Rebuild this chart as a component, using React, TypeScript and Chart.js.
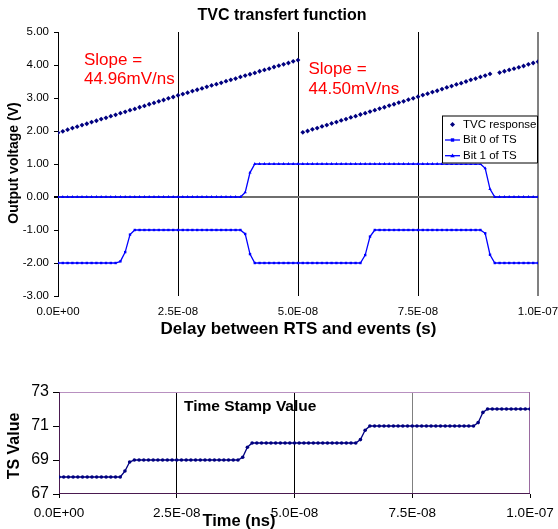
import React, { useEffect, useRef } from 'react';
import { Chart, registerables } from 'chart.js';

Chart.register(...registerables);

const FONT = '"Liberation Sans", Arial, sans-serif';

// sampling of the delay axis (one sample per ns)
const SAMPLE_STEP_S = 1e-9;

const X_TICK_VALUES = [0, 2.5e-8, 5e-8, 7.5e-8, 1e-7];
const X_TICK_LABELS = ['0.0E+00', '2.5E-08', '5.0E-08', '7.5E-08', '1.0E-07'];
const TVC_Y_TICKS = [-3, -2, -1, 0, 1, 2, 3, 4, 5];
const TS_Y_TICKS = [67, 69, 71, 73];

const SERIES_NAMES = ['TVC response', 'Bit 0 of TS', 'Bit 1 of TS'];
const TS_SERIES_NAME = 'Time Stamp Value';
const SLOPE_NOTES = [
  ['Slope =', '44.96mV/ns'],
  ['Slope =', '44.50mV/ns'],
];

const TVC_RESPONSE: (number | null)[] = [
  1.95, 1.99, 2.04, 2.09, 2.13, 2.18, 2.22, 2.27, 2.31, 2.36,
  2.40, 2.45, 2.49, 2.54, 2.58, 2.63, 2.67, 2.72, 2.76, 2.81,
  2.85, 2.90, 2.94, 2.99, 3.03, 3.08, 3.12, 3.16, 3.21, 3.25,
  3.29, 3.34, 3.38, 3.42, 3.46, 3.51, 3.55, 3.59, 3.64, 3.68,
  3.72, 3.76, 3.81, 3.85, 3.89, 3.94, 3.98, 4.02, 4.06, 4.11,
  4.15, 1.96, 2.00, 2.05, 2.09, 2.14, 2.18, 2.23, 2.27, 2.32,
  2.36, 2.41, 2.45, 2.50, 2.54, 2.59, 2.63, 2.68, 2.72, 2.77,
  2.81, 2.86, 2.90, 2.95, 2.99, 3.04, 3.09, 3.13, 3.18, 3.22,
  3.27, 3.32, 3.36, 3.41, 3.45, 3.50, 3.55, 3.59, 3.64, 3.68,
  3.73, null, 3.77, 3.81, 3.85, 3.89, 3.93, 3.97, 4.02, 4.06,
  4.10,
];

const BIT0_OF_TS: number[] = [
  -2, -2, -2, -2, -2, -2, -2, -2, -2, -2,
  -2, -2, -2, -1.95, -1.67, -1.14, -1, -1, -1, -1,
  -1, -1, -1, -1, -1, -1, -1, -1, -1, -1,
  -1, -1, -1, -1, -1, -1, -1, -1, -1, -1.12,
  -1.73, -2, -2, -2, -2, -2, -2, -2, -2, -2,
  -2, -2, -2, -2, -2, -2, -2, -2, -2, -2,
  -2, -2, -2, -2, -1.76, -1.2, -1, -1, -1, -1,
  -1, -1, -1, -1, -1, -1, -1, -1, -1, -1,
  -1, -1, -1, -1, -1, -1, -1, -1, -1, -1.1,
  -1.75, -2, -2, -2, -2, -2, -2, -2, -2, -2,
  -2,
];

const BIT1_OF_TS: number[] = [
  0, 0, 0, 0, 0, 0, 0, 0, 0, 0,
  0, 0, 0, 0, 0, 0, 0, 0, 0, 0,
  0, 0, 0, 0, 0, 0, 0, 0, 0, 0,
  0, 0, 0, 0, 0, 0, 0, 0, 0, 0.14,
  0.74, 1, 1, 1, 1, 1, 1, 1, 1, 1,
  1, 1, 1, 1, 1, 1, 1, 1, 1, 1,
  1, 1, 1, 1, 1, 1, 1, 1, 1, 1,
  1, 1, 1, 1, 1, 1, 1, 1, 1, 1,
  1, 1, 1, 1, 1, 1, 1, 1, 1, 0.87,
  0.24, 0, 0, 0, 0, 0, 0, 0, 0, 0,
  0,
];

const TS_VALUE: number[] = [
  68, 68, 68, 68, 68, 68, 68, 68, 68, 68,
  68, 68, 68, 68, 68.35, 68.88, 69, 69, 69, 69,
  69, 69, 69, 69, 69, 69, 69, 69, 69, 69,
  69, 69, 69, 69, 69, 69, 69, 69, 69, 69.16,
  69.75, 70, 70, 70, 70, 70, 70, 70, 70, 70,
  70, 70, 70, 70, 70, 70, 70, 70, 70, 70,
  70, 70, 70, 70, 70.2, 70.75, 71, 71, 71, 71,
  71, 71, 71, 71, 71, 71, 71, 71, 71, 71,
  71, 71, 71, 71, 71, 71, 71, 71, 71, 71.2,
  71.8, 72, 72, 72, 72, 72, 72, 72, 72, 72,
  72,
];

const toPoints = (arr: (number | null)[]) => arr.map((v, i) => ({ x: i * SAMPLE_STEP_S, y: v }));

const xLabel = (v: number) => {
  const i = X_TICK_VALUES.findIndex((t) => Math.abs(t - v) < 1e-12);
  return i >= 0 ? X_TICK_LABELS[i] : '';
};

const NAVY = '#000080';
const BLUE = '#0000FF';

function text(ctx: CanvasRenderingContext2D, s: string, x: number, y: number, font: string, color: string, align: CanvasTextAlign = 'left', baseline: CanvasTextBaseline = 'alphabetic', rot = 0) {
  ctx.save();
  ctx.font = font;
  ctx.fillStyle = color;
  ctx.textAlign = align;
  ctx.textBaseline = baseline;
  ctx.translate(x, y);
  if (rot) ctx.rotate(rot);
  ctx.fillText(s, 0, 0);
  ctx.restore();
}

const topDecor = {
  id: 'topDecor',
  afterDraw(chart: any) {
    const ctx: CanvasRenderingContext2D = chart.ctx;
    text(ctx, 'TVC transfert function', 282, 20, `bold 16px ${FONT}`, '#000', 'center');
    text(ctx, 'Output voltage (V)', 18, 163, `bold 14px ${FONT}`, '#000', 'center', 'alphabetic', -Math.PI / 2);
    text(ctx, 'Delay between RTS and events (s)', 298.5, 334, `bold 17px ${FONT}`, '#000', 'center');
    // slope notes
    text(ctx, SLOPE_NOTES[0][0], 84, 64.5, `17px ${FONT}`, '#FF0000');
    text(ctx, SLOPE_NOTES[0][1], 84, 84, `17px ${FONT}`, '#FF0000');
    text(ctx, SLOPE_NOTES[1][0], 308.5, 73.5, `17px ${FONT}`, '#FF0000');
    text(ctx, SLOPE_NOTES[1][1], 308.5, 94.3, `17px ${FONT}`, '#FF0000');
    // legend
    const lx = 442, ly = 115.5, lw = 96, lh = 48;
    ctx.save();
    ctx.fillStyle = '#fff';
    ctx.fillRect(lx, ly, lw, lh);
    ctx.strokeStyle = '#000';
    ctx.lineWidth = 1;
    ctx.strokeRect(lx + 0.5, ly + 0.5, lw - 1, lh - 1);
    const rows = [124.5, 140, 155.7];
    const sx = 452.5;
    // TVC response marker (diamond)
    ctx.fillStyle = NAVY;
    ctx.beginPath();
    ctx.moveTo(sx, rows[0] - 2.5);
    ctx.lineTo(sx + 2.5, rows[0]);
    ctx.lineTo(sx, rows[0] + 2.5);
    ctx.lineTo(sx - 2.5, rows[0]);
    ctx.closePath();
    ctx.fill();
    // Bit 0
    ctx.strokeStyle = BLUE;
    ctx.lineWidth = 1.3;
    ctx.beginPath();
    ctx.moveTo(445, rows[1]);
    ctx.lineTo(460, rows[1]);
    ctx.stroke();
    ctx.fillStyle = BLUE;
    ctx.fillRect(sx - 1.7, rows[1] - 1.7, 3.4, 3.4);
    // Bit 1
    ctx.beginPath();
    ctx.moveTo(445, rows[2]);
    ctx.lineTo(460, rows[2]);
    ctx.stroke();
    ctx.beginPath();
    ctx.moveTo(sx, rows[2] - 2.3);
    ctx.lineTo(sx + 2.3, rows[2] + 1.5);
    ctx.lineTo(sx - 2.3, rows[2] + 1.5);
    ctx.closePath();
    ctx.fill();
    ctx.restore();
    rows.forEach((y, i) => text(ctx, SERIES_NAMES[i], 463, y, `11.5px ${FONT}`, '#000', 'left', 'middle'));
  },
};

const bottomDecor = {
  id: 'bottomDecor',
  beforeDatasetsDraw(chart: any) {
    const ctx: CanvasRenderingContext2D = chart.ctx;
    const a = chart.chartArea;
    ctx.save();
    ctx.lineWidth = 1;
    ctx.strokeStyle = '#b890c0';
    ctx.beginPath();
    ctx.moveTo(a.left, a.top + 0.5);
    ctx.lineTo(a.right, a.top + 0.5);
    ctx.stroke();
    ctx.strokeStyle = '#9a6aa0';
    ctx.beginPath();
    ctx.moveTo(a.right - 0.5, a.top);
    ctx.lineTo(a.right - 0.5, a.bottom);
    ctx.stroke();
    ctx.strokeStyle = '#4a1a50';
    ctx.beginPath();
    ctx.moveTo(a.left, a.bottom - 0.5);
    ctx.lineTo(a.right, a.bottom - 0.5);
    ctx.moveTo(a.left + 0.5, a.top);
    ctx.lineTo(a.left + 0.5, a.bottom);
    ctx.stroke();
    ctx.restore();
  },
  afterDraw(chart: any) {
    const ctx: CanvasRenderingContext2D = chart.ctx;
    text(ctx, 'TS Value', 19, 106, `bold 16px ${FONT}`, '#000', 'center', 'alphabetic', -Math.PI / 2);
    text(ctx, 'Time (ns)', 239, 186, `bold 16.5px ${FONT}`, '#000', 'center');
    text(ctx, TS_SERIES_NAME, 184, 71, `bold 15.5px ${FONT}`, '#000', 'left');
  },
};

function TopChart() {
  const ref = useRef<HTMLCanvasElement>(null);
  useEffect(() => {
    const chart = new Chart(ref.current as HTMLCanvasElement, {
      type: 'line',
      data: {
        datasets: [
          {
            label: SERIES_NAMES[0],
            data: toPoints(TVC_RESPONSE) as any,
            showLine: false,
            pointStyle: 'rectRot',
            pointRadius: 2.4,
            pointBackgroundColor: NAVY,
            pointBorderColor: NAVY,
            pointBorderWidth: 0,
            borderColor: NAVY,
          },
          {
            label: SERIES_NAMES[1],
            data: toPoints(BIT0_OF_TS) as any,
            borderColor: BLUE,
            borderWidth: 1.3,
            pointStyle: 'rect',
            pointRadius: 1.7,
            pointBackgroundColor: BLUE,
            pointBorderColor: BLUE,
            pointBorderWidth: 0,
            tension: 0,
          },
          {
            label: SERIES_NAMES[2],
            data: toPoints(BIT1_OF_TS) as any,
            borderColor: BLUE,
            borderWidth: 1.3,
            pointStyle: 'triangle',
            pointRadius: 1.9,
            pointBackgroundColor: BLUE,
            pointBorderColor: BLUE,
            pointBorderWidth: 0,
            tension: 0,
          },
        ],
      },
      options: {
        responsive: false,
        animation: false,
        devicePixelRatio: 1,
        events: [],
        layout: { padding: { left: 0, right: 20, top: 32, bottom: 0 } },
        plugins: { legend: { display: false }, tooltip: { enabled: false }, title: { display: false } },
        scales: {
          x: {
            type: 'linear',
            min: 0,
            max: 1e-7,
            afterBuildTicks: (s: any) => {
              s.ticks = X_TICK_VALUES.map((v) => ({ value: v }));
            },
            afterFit: (s: any) => {
              s.height = 44;
              s.paddingLeft = 0;
              s.paddingRight = 0;
            },
            border: { display: false },
            grid: {
              color: (c: any) => (c.index === 4 ? '#808080' : '#000'),
              lineWidth: (c: any) => (c.index === 4 ? 2 : 1),
              drawTicks: false,
            },
            ticks: {
              padding: 9,
              maxRotation: 0,
              autoSkip: false,
              color: '#000',
              font: { family: FONT, size: 11.5 },
              callback: (v: any) => xLabel(Number(v)),
            },
          },
          y: {
            min: -3,
            max: 5,
            afterBuildTicks: (s: any) => {
              s.ticks = TVC_Y_TICKS.map((v) => ({ value: v }));
            },
            afterFit: (s: any) => {
              s.width = 58;
            },
            border: { display: true, color: '#000', width: 1 },
            grid: {
              color: (c: any) => (c.tick && c.tick.value === 0 ? '#6e6e6e' : 'rgba(0,0,0,0)'),
              lineWidth: (c: any) => (c.tick && c.tick.value === 0 ? 2 : 1),
              tickColor: '#000',
              tickLength: 4,
            },
            ticks: {
              padding: 5,
              color: '#000',
              font: { family: FONT, size: 11.5 },
              callback: (v: any) => Number(v).toFixed(2),
            },
          },
        },
      },
      plugins: [topDecor],
    } as any);
    return () => chart.destroy();
  }, []);
  return <canvas ref={ref} width={558} height={340} style={{ position: 'absolute', left: 0, top: 0, width: 558, height: 340 }} />;
}

function BottomChart() {
  const ref = useRef<HTMLCanvasElement>(null);
  useEffect(() => {
    const chart = new Chart(ref.current as HTMLCanvasElement, {
      type: 'line',
      data: {
        datasets: [
          {
            label: TS_SERIES_NAME,
            data: toPoints(TS_VALUE) as any,
            borderColor: NAVY,
            borderWidth: 1.3,
            pointStyle: 'circle',
            pointRadius: 1.8,
            pointBackgroundColor: NAVY,
            pointBorderColor: NAVY,
            pointBorderWidth: 0,
            tension: 0,
          },
        ],
      },
      options: {
        responsive: false,
        animation: false,
        devicePixelRatio: 1,
        events: [],
        layout: { padding: { left: 0, right: 28, top: 52, bottom: 0 } },
        plugins: { legend: { display: false }, tooltip: { enabled: false }, title: { display: false } },
        scales: {
          x: {
            type: 'linear',
            min: 0,
            max: 1e-7,
            afterBuildTicks: (s: any) => {
              s.ticks = X_TICK_VALUES.map((v) => ({ value: v }));
            },
            afterFit: (s: any) => {
              s.height = 35;
              s.paddingLeft = 0;
              s.paddingRight = 0;
            },
            border: { display: false },
            grid: {
              color: (c: any) => (c.index === 3 ? '#808080' : c.index === 1 || c.index === 2 ? '#000' : 'rgba(0,0,0,0)'),
              lineWidth: 1,
              tickColor: '#000',
              tickLength: 4,
            },
            ticks: {
              padding: 7,
              maxRotation: 0,
              autoSkip: false,
              color: '#000',
              font: { family: FONT, size: 13.5 },
              callback: (v: any) => xLabel(Number(v)),
            },
          },
          y: {
            min: 67,
            max: 73,
            afterBuildTicks: (s: any) => {
              s.ticks = TS_Y_TICKS.map((v) => ({ value: v }));
            },
            afterFit: (s: any) => {
              s.width = 59;
            },
            border: { display: false },
            grid: {
              drawOnChartArea: false,
              tickColor: '#000',
              tickLength: 6,
            },
            ticks: {
              padding: 4,
              color: '#000',
              font: { family: FONT, size: 16 },
              callback: (v: any) => String(v),
            },
          },
        },
      },
      plugins: [bottomDecor],
    } as any);
    return () => chart.destroy();
  }, []);
  return <canvas ref={ref} width={558} height={189} style={{ position: 'absolute', left: 0, top: 340, width: 558, height: 189 }} />;
}

export default function App() {
  return (
    <div style={{ position: 'absolute', left: 0, top: 0, width: 558, height: 529, background: '#fff', overflow: 'hidden' }}>
      <TopChart />
      <BottomChart />
    </div>
  );
}
